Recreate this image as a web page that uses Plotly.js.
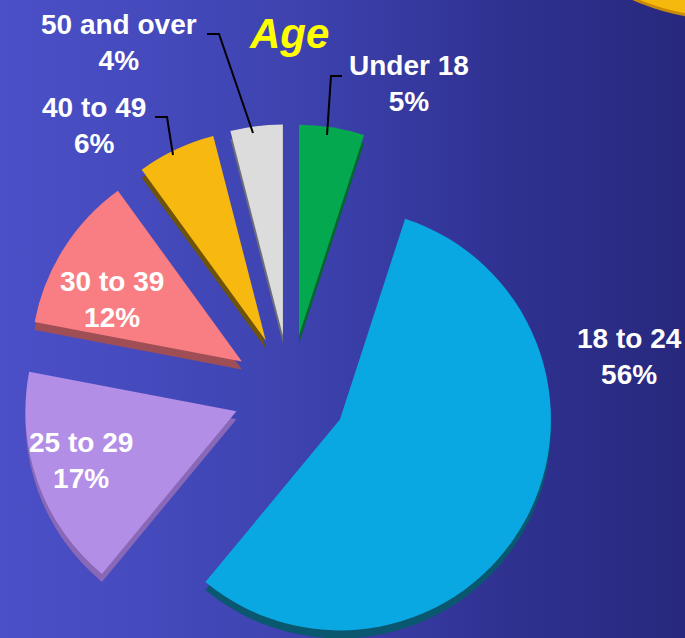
<!DOCTYPE html>
<html><head><meta charset="utf-8">
<script src="https://cdn.plot.ly/plotly-3.0.1.min.js"></script>
<style>
html,body{margin:0;padding:0;overflow:hidden;}
#wrap{width:685px;height:638px;overflow:hidden;position:relative;
  background:linear-gradient(to right,#4b50c8 0%,#3f44b2 40%,#2f3190 75%,#27287d 100%);}
#chart{position:absolute;left:0;top:0;width:685px;height:680px;}
</style></head><body><div id="wrap"><div id="chart"></div></div>
<script>
// ---- data ----
const categories = ['Under 18', '18 to 24', '25 to 29', '30 to 39', '40 to 49', '50 and over'];
const shares = [5, 56, 17, 12, 6, 4];
const titleText = 'Age';

// ---- styling ----
const sliceColors = ['#04a84f', '#0aa8e3', '#b28ee6', '#f87e83', '#f7b90f', '#dcdcdc'];
const sideColors  = ['#05662f', '#0a5870', '#8a68b8', '#a04e55', '#6e5308', '#6e6e78'];
const pullFrac = 0.27;

const W = 685, H = 680;
const cx = 290, cy = 392, r = 211, depth = 8;
const box = r * (2 + 2 * pullFrac);
function dom(x, y) {
  return {x: [(x - box / 2) / W, (x + box / 2) / W], y: [1 - (y + box / 2) / H, 1 - (y - box / 2) / H]};
}
const px = x => x / W, py = y => 1 - y / H;

const baseTrace = {
  type: 'pie', labels: categories, values: shares, sort: false,
  direction: 'clockwise', rotation: 0, textinfo: 'none', hoverinfo: 'label+percent',
  pull: categories.map(() => pullFrac), showlegend: false
};
const sideTrace = Object.assign({}, baseTrace, {domain: dom(cx, cy + depth), marker: {colors: sideColors, line: {width: 0}}});
const faceTrace = Object.assign({}, baseTrace, {domain: dom(cx, cy), marker: {colors: sliceColors, line: {width: 0}}});

// label positions (block centres, px)
const labelPos = [[409, 83], [629, 356], [81, 460], [112, 299], [94, 125], [119, 42]];
const annotations = categories.map((c, i) => ({
  xref: 'paper', yref: 'paper', x: px(labelPos[i][0]), y: py(labelPos[i][1]),
  xanchor: 'center', yanchor: 'middle', showarrow: false,
  text: '<b>' + c + '<br>' + shares[i] + '%</b>',
  font: {family: 'Liberation Sans, Arial, sans-serif', size: 28, color: '#ffffff'}
}));
annotations.push({
  xref: 'paper', yref: 'paper', x: px(289), y: py(33), xanchor: 'center', yanchor: 'middle',
  showarrow: false, text: '<b><i>' + titleText + '</i></b>',
  font: {family: 'Liberation Sans, Arial, sans-serif', size: 42, color: '#ffff00'}
});

function pathOf(pts) {
  return pts.map((p, i) => (i ? 'L' : 'M') + px(p[0]) + ',' + py(p[1])).join(' ');
}
const leaders = [
  [[207, 34], [219, 34], [253, 133]],
  [[155, 117], [167, 117], [173, 155]],
  [[342, 76], [331, 76], [327, 135]]
];
const shapes = leaders.map(pts => ({type: 'path', xref: 'paper', yref: 'paper', path: pathOf(pts),
  line: {color: '#000000', width: 2}}));
// partial disc of a neighbouring chart at top-right corner
shapes.unshift({type: 'circle', xref: 'paper', yref: 'paper',
  x0: px(722 - 214), x1: px(722 + 214), y0: py(-196 + 214), y1: py(-196 - 214),
  fillcolor: '#f5b80c', line: {color: '#c98a06', width: 3}, layer: 'below'});

Plotly.newPlot('chart', [sideTrace, faceTrace], {
  width: W, height: H, margin: {l: 0, r: 0, t: 0, b: 0},
  paper_bgcolor: 'rgba(0,0,0,0)', plot_bgcolor: 'rgba(0,0,0,0)',
  annotations: annotations, shapes: shapes
}, {displayModeBar: false, staticPlot: true});
</script></body></html>
